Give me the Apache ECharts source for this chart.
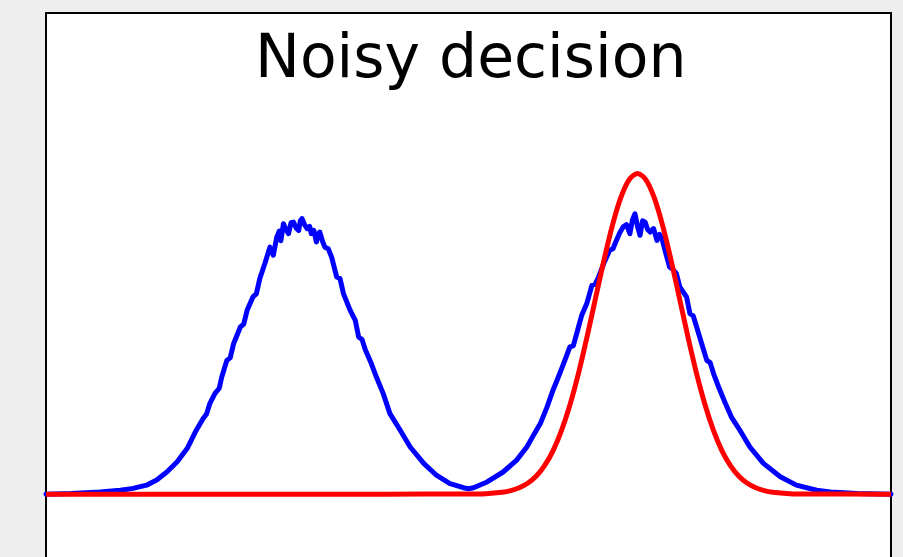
<!DOCTYPE html>
<html>
<head>
<meta charset="utf-8">
<script src="https://cdn.jsdelivr.net/npm/echarts@6/dist/echarts.min.js"></script>
<style>
html,body{margin:0;padding:0;background:#eeeeee;}
#chart{width:903px;height:557px;}
</style>
</head>
<body>
<div id="chart"></div>
<script>
const titleText = "Noisy decision";

// Noisy observed distribution (blue)
const blueX = [-5.0, -4.7, -4.36, -4.12, -3.97, -3.81, -3.69, -3.57, -3.45, -3.33, -3.22, -3.14, -3.10, -3.06, -3.00, -2.95, -2.92, -2.86, -2.82, -2.78, -2.70, -2.66, -2.62, -2.55, -2.51, -2.47, -2.41, -2.35, -2.31, -2.27, -2.24, -2.22, -2.19, -2.16, -2.13, -2.10, -2.07, -2.04, -2.01, -1.99, -1.97, -1.94, -1.91, -1.88, -1.86, -1.83, -1.80, -1.78, -1.76, -1.73, -1.70, -1.66, -1.62, -1.56, -1.52, -1.48, -1.40, -1.34, -1.30, -1.26, -1.22, -1.15, -1.09, -1.01, -0.93, -0.81, -0.69, -0.53, -0.38, -0.22, -0.06, 0.00, 0.06, 0.22, 0.41, 0.57, 0.69, 0.77, 0.85, 0.93, 1.00, 1.08, 1.14, 1.20, 1.24, 1.28, 1.34, 1.40, 1.46, 1.50, 1.54, 1.60, 1.67, 1.71, 1.75, 1.79, 1.83, 1.87, 1.91, 1.94, 1.97, 2.00, 2.03, 2.06, 2.09, 2.12, 2.15, 2.19, 2.23, 2.26, 2.29, 2.33, 2.38, 2.42, 2.46, 2.50, 2.58, 2.62, 2.66, 2.70, 2.76, 2.82, 2.86, 2.90, 2.96, 3.04, 3.11, 3.21, 3.33, 3.49, 3.69, 3.88, 4.12, 4.28, 4.6, 5.0];
const blueY = [0.000, 0.002, 0.007, 0.012, 0.018, 0.028, 0.044, 0.069, 0.100, 0.142, 0.200, 0.236, 0.250, 0.283, 0.314, 0.330, 0.365, 0.417, 0.425, 0.469, 0.521, 0.530, 0.573, 0.615, 0.625, 0.672, 0.719, 0.770, 0.745, 0.800, 0.820, 0.790, 0.843, 0.825, 0.812, 0.846, 0.848, 0.830, 0.822, 0.852, 0.859, 0.840, 0.828, 0.835, 0.812, 0.822, 0.786, 0.810, 0.817, 0.790, 0.770, 0.765, 0.739, 0.677, 0.672, 0.625, 0.573, 0.542, 0.490, 0.482, 0.449, 0.407, 0.365, 0.314, 0.251, 0.200, 0.147, 0.096, 0.059, 0.033, 0.020, 0.017, 0.020, 0.038, 0.069, 0.106, 0.147, 0.184, 0.220, 0.272, 0.324, 0.376, 0.417, 0.459, 0.462, 0.500, 0.558, 0.594, 0.651, 0.655, 0.677, 0.719, 0.760, 0.765, 0.791, 0.815, 0.833, 0.840, 0.812, 0.855, 0.874, 0.835, 0.807, 0.852, 0.848, 0.825, 0.817, 0.828, 0.791, 0.810, 0.796, 0.755, 0.708, 0.700, 0.688, 0.646, 0.615, 0.563, 0.555, 0.521, 0.469, 0.417, 0.410, 0.376, 0.334, 0.283, 0.241, 0.200, 0.147, 0.096, 0.054, 0.028, 0.012, 0.007, 0.002, 0.000];

// Ideal decision curve (red)
const redX = [-5.0, -1.0, 0.0, 0.2, 0.4, 0.5, 0.6, 0.7, 0.8, 0.9, 1.0, 1.1, 1.2, 1.3, 1.4, 1.5, 1.6, 1.7, 1.8, 1.9, 2.0, 2.1, 2.2, 2.3, 2.4, 2.5, 2.6, 2.7, 2.8, 2.9, 3.0, 3.1, 3.2, 3.3, 3.4, 3.5, 3.6, 3.8, 4.0, 5.0];
const redY = [0.000, 0.000, 0.0003, 0.0015, 0.006, 0.011, 0.020, 0.034, 0.056, 0.089, 0.135, 0.198, 0.278, 0.375, 0.487, 0.607, 0.726, 0.835, 0.923, 0.980, 1.000, 0.980, 0.923, 0.835, 0.726, 0.607, 0.487, 0.375, 0.278, 0.198, 0.135, 0.089, 0.056, 0.034, 0.020, 0.011, 0.006, 0.0015, 0.0003, 0.000];

const xMin = -5, xMax = 5, yMin = -0.196, yMax = 1.5;

const blueData = blueX.map((x, i) => [x, blueY[i]]);
const redData = redX.map((x, i) => [x, redY[i]]);

const frameLine = {show: true, onZero: false, lineStyle: {color: '#000000', width: 2}};

const chart = echarts.init(document.getElementById('chart'), null, {renderer: 'canvas'});
chart.setOption({
  backgroundColor: '#eeeeee',
  animation: false,
  title: {
    text: titleText,
    left: 255,
    top: 31,
    padding: 0,
    textStyle: {fontFamily: 'DejaVu Sans', fontSize: 60, fontWeight: 'normal', color: '#000000'}
  },
  grid: {
    left: 46, right: 12, top: 13, bottom: 0,
    show: true, backgroundColor: '#ffffff', borderWidth: 0,
    containLabel: false
  },
  xAxis: {
    type: 'value', min: xMin, max: xMax, position: 'top',
    axisLine: frameLine, axisTick: {show: false}, axisLabel: {show: false}, splitLine: {show: false}
  },
  yAxis: [
    {type: 'value', min: yMin, max: yMax, position: 'left',
     axisLine: frameLine, axisTick: {show: false}, axisLabel: {show: false}, splitLine: {show: false}},
    {type: 'value', min: yMin, max: yMax, position: 'right',
     axisLine: frameLine, axisTick: {show: false}, axisLabel: {show: false}, splitLine: {show: false}}
  ],
  series: [
    {type: 'line', data: blueData, showSymbol: false, smooth: false,
     lineStyle: {color: '#0000ff', width: 5, join: 'round', cap: 'round'}, z: 2},
    {type: 'line', data: redData, showSymbol: false, smooth: 0.3,
     lineStyle: {color: '#ff0000', width: 5, join: 'round'}, z: 3}
  ]
});
</script>
</body>
</html>
